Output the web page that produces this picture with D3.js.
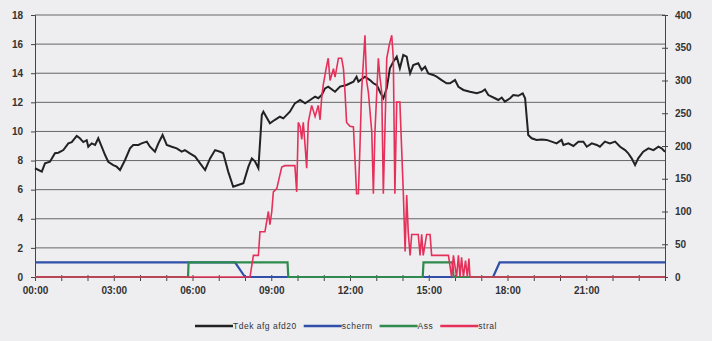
<!DOCTYPE html>
<html>
<head>
<meta charset="utf-8">
<script src="https://cdn.jsdelivr.net/npm/d3@7"></script>
<style>
  body { margin: 0; background: #eeeef1; }
  svg { display: block; font-family: "Liberation Sans", Arial, sans-serif; }
  .axis text { fill: #333; font-weight: bold; font-size: 10px; }
  .axis path, .axis line { stroke: #444; }
</style>
</head>
<body>
<div id="chart"></div>
<script>
// hours of the day
var tdek = [[0,7.47],[0.26,7.24],[0.38,7.81],[0.57,7.92],[0.76,8.5],[0.89,8.54],[1.08,8.72],[1.27,9.18],[1.4,9.27],[1.59,9.69],[1.71,9.53],[1.84,9.27],[1.97,9.4],[2.03,8.95],[2.16,9.18],[2.29,9.07],[2.41,9.53],[2.54,8.95],[2.67,8.38],[2.79,7.92],[2.98,7.69],[3.11,7.58],[3.24,7.35],[3.43,8.04],[3.62,8.84],[3.74,9.07],[3.94,9.07],[4.06,9.18],[4.26,9.3],[4.38,8.95],[4.57,8.61],[4.7,9.18],[4.86,9.76],[5.02,9.07],[5.21,8.95],[5.4,8.84],[5.59,8.61],[5.71,8.72],[5.9,8.49],[6.1,8.27],[6.29,7.81],[6.48,7.35],[6.67,8.15],[6.86,8.72],[7.05,8.61],[7.17,8.5],[7.36,7.24],[7.55,6.2],[7.74,6.32],[7.94,6.44],[8.13,7.58],[8.26,8.15],[8.38,7.95],[8.51,7.47],[8.64,11.13],[8.7,11.36],[8.95,10.56],[9.14,10.8],[9.33,11.01],[9.46,10.9],[9.71,11.36],[9.9,11.93],[10.1,12.16],[10.29,11.93],[10.48,12.16],[10.67,12.39],[10.79,12.28],[10.92,12.5],[11.05,12.96],[11.17,13.08],[11.43,12.73],[11.62,13.08],[11.87,13.19],[12.13,13.42],[12.25,13.76],[12.32,13.42],[12.57,13.76],[12.76,13.53],[12.89,13.31],[13.02,13.19],[13.14,12.73],[13.27,12.28],[13.4,12.96],[13.52,14.34],[13.65,14.79],[13.78,15.14],[13.9,14.34],[14.03,15.25],[14.16,15.14],[14.22,14.56],[14.29,13.99],[14.41,14.56],[14.6,14.68],[14.73,14.22],[14.86,14.45],[14.98,13.99],[15.17,13.88],[15.3,13.76],[15.49,13.53],[15.68,13.31],[15.81,13.31],[16,13.53],[16.13,13.07],[16.32,12.85],[16.57,12.73],[16.83,12.62],[17.02,12.73],[17.14,12.89],[17.27,12.5],[17.52,12.28],[17.65,12.16],[17.78,12.33],[17.9,12.05],[18.1,12.28],[18.22,12.5],[18.41,12.45],[18.58,12.62],[18.67,12.28],[18.79,9.76],[18.92,9.53],[19.11,9.42],[19.3,9.45],[19.49,9.42],[19.68,9.3],[19.87,9.18],[20.06,9.42],[20.13,9.07],[20.32,9.18],[20.51,9],[20.7,9.3],[20.89,9.3],[21.02,8.95],[21.21,9.18],[21.4,9.07],[21.52,8.95],[21.71,9.3],[21.9,9.18],[22.1,9.3],[22.29,8.95],[22.48,8.72],[22.6,8.5],[22.73,8.15],[22.86,7.69],[22.98,8.15],[23.17,8.61],[23.37,8.84],[23.56,8.72],[23.75,8.95],[23.87,8.84],[24,8.61]];

var scherm = [[0,1],[7.62,1],[8.0,0],[17.45,0],[17.7,1],[24,1]];

var ass = [[0,0],[5.83,0],[5.85,1],[9.62,1],[9.65,0],[14.77,0],[14.8,1],[15.9,1],[15.95,0],[24,0]];

var stral = [[0,0],[8.19,0],[8.32,33],[8.51,33],[8.57,69],[8.76,69],[8.89,100],[8.95,80],[9.02,100],[9.08,130],[9.21,135],[9.33,156],[9.4,168],[9.52,170],[9.9,170],[9.97,130],[10.03,236],[10.1,230],[10.16,210],[10.22,236],[10.29,200],[10.35,166],[10.41,236],[10.54,262],[10.67,245],[10.79,262],[10.86,240],[10.92,273],[10.98,293],[11.09,318],[11.17,334],[11.24,300],[11.37,318],[11.43,305],[11.56,334],[11.68,334],[11.75,318],[11.81,282],[11.87,236],[12.0,230],[12.13,229],[12.19,180],[12.25,127],[12.32,127],[12.38,200],[12.44,282],[12.57,369],[12.63,300],[12.7,282],[12.83,221],[12.89,127],[12.95,221],[13.08,334],[13.14,305],[13.21,282],[13.27,127],[13.4,334],[13.5,355],[13.59,369],[13.65,334],[13.71,127],[13.78,267],[13.9,267],[14.03,130],[14.1,39],[14.16,125],[14.22,67],[14.29,33],[14.35,65],[14.6,65],[14.67,33],[14.73,65],[14.79,33],[14.92,65],[15.05,65],[15.11,33],[15.75,33],[15.87,0],[15.94,33],[16.06,0],[16.13,33],[16.19,0],[16.25,30],[16.32,0],[16.4,25],[16.47,0],[16.53,28],[16.57,0],[24,0]];

var seriesNames = ["Tdek afg afd20", "scherm", "Ass", "stral"];
var seriesColors = ["#222222", "#2f4fa8", "#2e8a4e", "#e5305a"];
var leftTicks = [0,2,4,6,8,10,12,14,16,18];
var rightTicks = [0,50,100,150,200,250,300,350,400];
var hourLabels = ["00:00","03:00","06:00","09:00","12:00","15:00","18:00","21:00"];

var W = 712, H = 341;
var margin = {top: 15, right: 47, bottom: 64, left: 35};
var w = W - margin.left - margin.right;
var h = H - margin.top - margin.bottom;

var svg = d3.select("#chart").append("svg")
	.attr("width", W)
	.attr("height", H);
var g = svg.append("g")
	.attr("transform", "translate(" + margin.left + "," + margin.top + ")");

var x = d3.scaleLinear().domain([0, 24]).range([0, w]);
var yL = d3.scaleLinear().domain([0, 18]).range([h, 0]);
var yR = d3.scaleLinear().domain([0, 400]).range([h, 0]);

// gridlines from left axis
g.selectAll(".grid")
	.data(leftTicks.filter(function(d){ return d > 0; }))
	.enter().append("line")
	.attr("class", "grid")
	.attr("x1", 0).attr("x2", w)
	.attr("y1", function(d){ return yL(d); })
	.attr("y2", function(d){ return yL(d); })
	.attr("stroke", "#666")
	.attr("stroke-width", 1);

// left axis
var leftAxis = g.append("g").attr("class", "axis")
	.call(d3.axisLeft(yL).tickValues(leftTicks).tickSize(4).tickPadding(8));

// right axis, ticks cross the line
var rightAxis = g.append("g").attr("class", "axis")
	.attr("transform", "translate(" + w + ",0)")
	.call(d3.axisRight(yR).tickValues(rightTicks).tickSize(3).tickPadding(7));
rightAxis.selectAll(".tick line").attr("x1", -3);
rightAxis.selectAll(".tick text").attr("text-anchor", "start");

// bottom axis, a tick every hour, label every 3 hours
var hours = d3.range(0, 25);
var bottomAxis = g.append("g").attr("class", "axis")
	.attr("transform", "translate(0," + h + ")")
	.call(d3.axisBottom(x).tickValues(hours).tickSize(4).tickPadding(6)
		.tickFormat(function(d){ return d % 3 === 0 && d < 24 ? hourLabels[d/3] : ""; }));
bottomAxis.selectAll(".tick line").attr("y1", -2);

var lineL = d3.line()
	.x(function(d){ return x(d[0]); })
	.y(function(d){ return yL(d[1]); });
var lineR = d3.line()
	.x(function(d){ return x(d[0]); })
	.y(function(d){ return yR(d[1]); });

g.append("path").datum(tdek)
	.attr("d", lineL).attr("fill", "none")
	.attr("stroke", seriesColors[0]).attr("stroke-width", 2);
g.append("path").datum(scherm)
	.attr("d", lineL).attr("fill", "none")
	.attr("stroke", seriesColors[1]).attr("stroke-width", 2.2);
g.append("path").datum(ass)
	.attr("d", lineL).attr("fill", "none")
	.attr("stroke", seriesColors[2]).attr("stroke-width", 2.2);
g.append("path").datum(stral)
	.attr("d", lineR).attr("fill", "none")
	.attr("stroke", seriesColors[3]).attr("stroke-width", 1.6);

// legend
var legend = svg.append("g").attr("transform", "translate(195,326)");
var lx = 0;
seriesNames.forEach(function(name, i){
	legend.append("line")
		.attr("x1", lx).attr("x2", lx + 38)
		.attr("y1", 0).attr("y2", 0)
		.attr("stroke", seriesColors[i]).attr("stroke-width", 2.5);
	var t = legend.append("text")
		.attr("x", lx + 38)
		.attr("y", 3)
		.attr("font-size", 8.5)
		.attr("letter-spacing", 0.5)
		.attr("fill", "#333")
		.text(name);
	lx += 38 + t.node().getComputedTextLength() + 7;
});
</script>
</body>
</html>
